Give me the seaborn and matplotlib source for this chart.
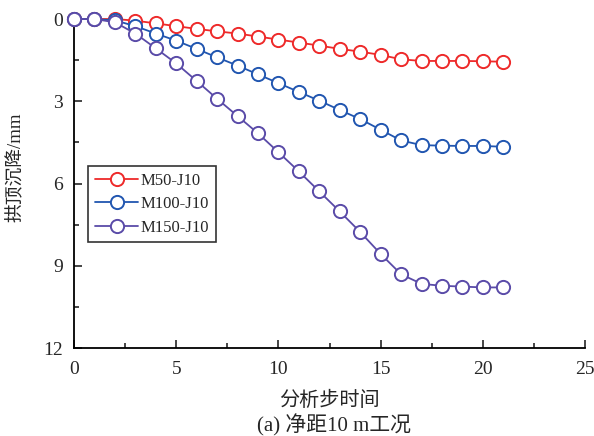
import numpy as np
import pandas as pd
import seaborn as sns
import matplotlib.pyplot as plt
from matplotlib.ticker import MultipleLocator

steps = list(range(22))
m50 = [0, 0, 0, 0.06, 0.16, 0.26, 0.36, 0.45, 0.53, 0.64, 0.75, 0.86, 0.97, 1.09,
       1.19, 1.31, 1.47, 1.53, 1.53, 1.53, 1.54, 1.56]
m100 = [0, 0, 0.05, 0.26, 0.53, 0.79, 1.09, 1.40, 1.70, 2.02, 2.34, 2.66, 2.98, 3.32,
        3.65, 4.04, 4.43, 4.60, 4.62, 4.63, 4.63, 4.66]
m150 = [0, 0, 0.12, 0.53, 1.07, 1.62, 2.26, 2.91, 3.54, 4.17, 4.86, 5.56, 6.29, 7.02,
        7.77, 8.57, 9.31, 9.66, 9.73, 9.76, 9.79, 9.79]
labels = ['M50-J10', 'M100-J10', 'M150-J10']
colors = ['#ee2a2a', '#2156b0', '#5a4ba8']

sns.set_style('ticks')
plt.rcParams['font.family'] = ['Liberation Serif', 'Noto Sans CJK SC']
plt.rcParams['axes.unicode_minus'] = False

fig = plt.figure(figsize=(5.94, 4.36), dpi=100)
ax = fig.add_axes([0.1246, 0.2018, 0.8604, 0.7546])

for vals, lab, c in zip([m50, m100, m150], labels, colors):
    sns.lineplot(x=steps, y=vals, ax=ax, color=c, linewidth=1.3, marker='o',
                 markersize=9.5, markerfacecolor='white', markeredgecolor=c,
                 markeredgewidth=1.4, label=lab, clip_on=False, zorder=3)

ax.set_xlim(0, 25)
ax.set_ylim(12, 0)
ax.xaxis.set_major_locator(MultipleLocator(5))
ax.xaxis.set_minor_locator(MultipleLocator(2.5))
ax.yaxis.set_major_locator(MultipleLocator(3))
ax.yaxis.set_minor_locator(MultipleLocator(1.5))
ax.tick_params(which='both', direction='in', labelsize=14, width=1.2)
ax.tick_params(which='major', length=6)
ax.tick_params(which='minor', length=3.5)
ax.tick_params(axis='x', pad=9)
ax.tick_params(axis='y', pad=8)
for s in ['left', 'bottom']:
    ax.spines[s].set_linewidth(1.3)
    ax.spines[s].set_color('black')
ax.spines['top'].set_visible(False)
ax.spines['right'].set_visible(False)

ax.set_xlabel('分析步时间', fontsize=14.5, labelpad=10)
ax.set_ylabel('拱顶沉降/mm', fontsize=13.5)
ax.yaxis.set_label_coords(-0.096, 0.55)

leg = ax.legend(loc='upper left', bbox_to_anchor=(0.028, 0.553), fontsize=12,
                frameon=True, fancybox=False, edgecolor='black', handlelength=2.6,
                handletextpad=0.15, borderpad=0.4, labelspacing=0.45,
                borderaxespad=0)
leg.get_frame().set_linewidth(1.2)

fig.text(0.562, 0.0, '(a) 净距10 m工况', ha='center', va='bottom', fontsize=15)

fig.savefig('out.png', dpi=100)
